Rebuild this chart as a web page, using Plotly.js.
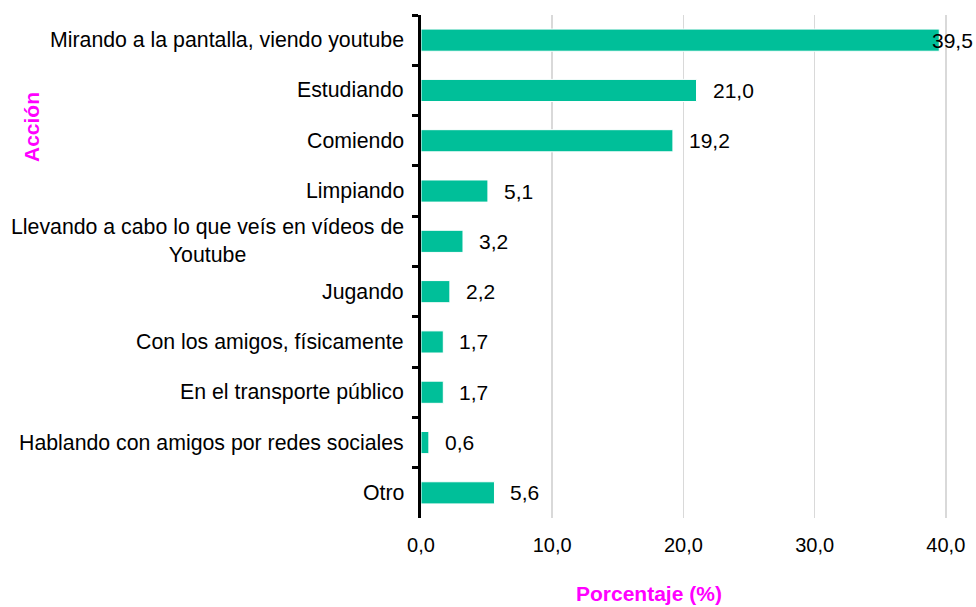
<!DOCTYPE html>
<html>
<head>
<meta charset="utf-8">
<script src="https://cdn.plot.ly/plotly-3.0.1.min.js"></script>
<style>html,body{margin:0;padding:0;background:#fff;}#chart{width:976px;height:607px;}</style>
</head>
<body>
<div id="chart"></div>
<script>
const categories = [
  "Mirando a la pantalla, viendo youtube",
  "Estudiando",
  "Comiendo",
  "Limpiando",
  "Llevando a cabo lo que veís en vídeos de<br>Youtube",
  "Jugando",
  "Con los amigos, físicamente",
  "En el transporte público",
  "Hablando con amigos por redes sociales",
  "Otro"
];
const values = [39.5, 21.0, 19.2, 5.1, 3.2, 2.2, 1.7, 1.7, 0.6, 5.6];
const xTickVals = [0, 10, 20, 30, 40];
const xTitle = "Porcentaje (%)";
const yTitle = "Acción";

const fontFam = "Liberation Sans, Arial, sans-serif";
const barColor = "#00bf99";

const fmt = v => v.toFixed(1).replace('.', ',');

// plot area in page pixels
const L = 421, R = 976, T = 15, B = 518;
const plotW = R - L, plotH = B - T;

const annotations = [];
categories.forEach((c, i) => {
  annotations.push({
    x: 0, xref: 'paper', y: c, yref: 'y',
    text: c, showarrow: false, xanchor: 'right', yanchor: 'middle',
    align: 'center', xshift: -15,
    font: {family: fontFam, size: 21.3, color: '#000'}
  });
  annotations.push({
    x: values[i], xref: 'x', y: c, yref: 'y',
    text: fmt(values[i]), showarrow: false, xanchor: 'left', yanchor: 'middle',
    xshift: values[i] > 35 ? -9 : 14,
    font: {family: fontFam, size: 21, color: '#000'}
  });
});
annotations.push({
  x: (649 - L) / plotW, xref: 'paper', y: (B - 593) / plotH, yref: 'paper',
  xanchor: 'center', yanchor: 'middle',
  text: '<b>' + xTitle + '</b>', showarrow: false,
  font: {family: fontFam, size: 21, color: '#ff00ff'}
});
annotations.push({
  x: (32 - L) / plotW, xref: 'paper', y: (B - 127) / plotH, yref: 'paper',
  text: '<b>' + yTitle + '</b>', showarrow: false, textangle: -90,
  xanchor: 'center', yanchor: 'middle',
  font: {family: fontFam, size: 21, color: '#ff00ff'}
});

const layout = {
  width: 976, height: 607,
  margin: {l: L, r: 976 - R, t: T, b: 607 - B},
  paper_bgcolor: '#fff', plot_bgcolor: '#fff',
  separators: ',.',
  showlegend: false,
  bargap: 0.56,
  font: {family: fontFam, size: 20, color: '#000'},
  xaxis: {
    range: [0, 42.3],
    tickvals: xTickVals,
    tickformat: '.1f',
    showgrid: true, gridcolor: '#d9d9d9', gridwidth: 1.5,
    zeroline: false, showline: false, ticks: '',
    ticklabelstandoff: 13,
    tickfont: {family: fontFam, size: 20, color: '#000'}
  },
  yaxis: {
    type: 'category',
    categoryorder: 'array', categoryarray: categories,
    range: [9.5, -0.5],
    showticklabels: false,
    showline: true, linecolor: '#000', linewidth: 3,
    ticks: 'outside', tickson: 'boundaries', ticklen: 6, tickwidth: 3, tickcolor: '#000',
    showgrid: false, zeroline: false
  },
  annotations: annotations
};

const trace = {
  type: 'bar', orientation: 'h',
  x: values, y: categories,
  marker: {color: barColor, line: {color: '#fff', width: 1}},
  hoverinfo: 'none'
};

Plotly.newPlot('chart', [trace], layout, {displayModeBar: false, staticPlot: true});
</script>
</body>
</html>
